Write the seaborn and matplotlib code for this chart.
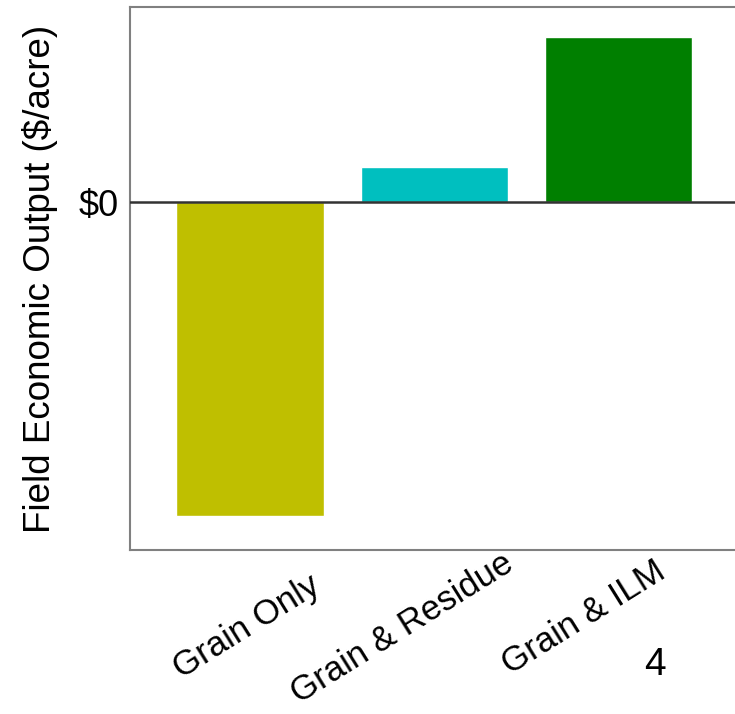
import matplotlib
matplotlib.use("Agg")
import matplotlib.pyplot as plt
import seaborn as sns
import pandas as pd

# values (relative $/acre, only $0 is labelled)
categories = ["Grain Only", "Grain & Residue", "Grain & ILM"]
output_values = [-314, 35, 165]
bar_colors = ["#bfbf00", "#00bfbf", "#007f00"]

df = pd.DataFrame({"system": categories, "output": output_values})

sns.set_theme(style="white")
plt.rcParams["font.family"] = ["Liberation Sans", "DejaVu Sans"]
plt.rcParams["text.color"] = "black"
plt.rcParams["axes.labelcolor"] = "black"
plt.rcParams["xtick.color"] = "#808080"
plt.rcParams["ytick.color"] = "#808080"
plt.rcParams["xtick.labelcolor"] = "black"
plt.rcParams["ytick.labelcolor"] = "black"

fig = plt.figure(figsize=(7.35, 7.14), dpi=100)
ax = fig.add_axes([130 / 735, 1 - 550 / 714, 610 / 735, 543 / 714])

sns.barplot(data=df, x="system", y="output", hue="system", palette=bar_colors,
            width=0.8, saturation=1, legend=False, ax=ax)

ax.axhline(0, color="#333333", lw=1.8, zorder=3)
ax.set_xlim(-0.652, 2.66)
ax.set_ylim(-348, 195)

ax.set_yticks([0])
ax.set_yticklabels(["$0"], fontsize=26)
ax.set_ylabel("Field Economic Output ($/acre)", fontsize=26.5, labelpad=15)
ax.set_xlabel("")

# category labels drawn by hand: in the original they sit a bit off their ticks
ax.set_xticks(range(len(categories)))
ax.set_xticklabels([])
offsets = [(-3, -19), (-32, 3), (-35, -5)]
for i, (cat, (dx, dy)) in enumerate(zip(categories, offsets)):
    ax.annotate(cat, xy=(i, 0), xycoords=ax.get_xaxis_transform(),
                xytext=(dx, dy), textcoords="offset pixels",
                rotation=32, ha="center", va="top", fontsize=25)

ax.tick_params(axis="y", length=4, width=1.2, pad=4)
ax.tick_params(axis="x", length=3, width=1, direction="in")

for side in ["left", "bottom", "top"]:
    ax.spines[side].set_color("#808080")
    ax.spines[side].set_linewidth(1.5)
ax.spines["right"].set_visible(False)

fig.text(655 / 735, 1 - 665 / 714, "4", fontsize=28, ha="center", va="center")

fig.savefig("out.png", dpi=100)
